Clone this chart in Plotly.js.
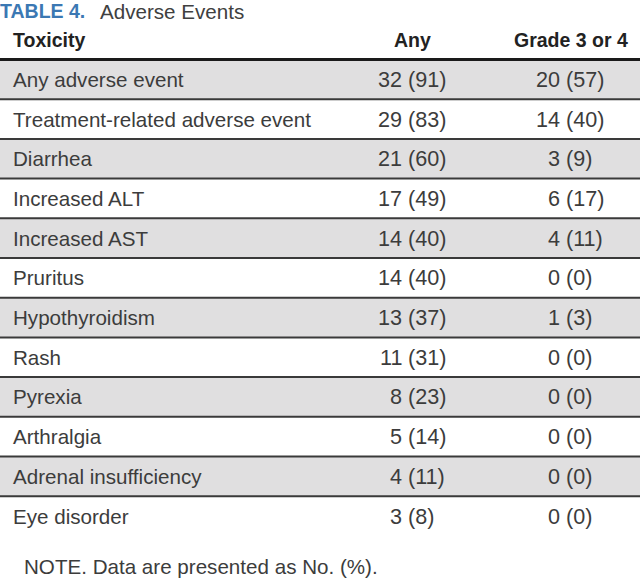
<!DOCTYPE html>
<html>
<head>
<meta charset="utf-8">
<script src="https://cdn.plot.ly/plotly-3.0.1.min.js"></script>
<style>html,body{margin:0;padding:0;background:#fff;}#chart{width:640px;height:580px;}</style>
</head>
<body>
<div id="chart"></div>
<script>
// ---- data ----
var tableLabel = "TABLE 4.";
var tableTitle = "Adverse Events";
var headers = ["Toxicity", "Any", "Grade 3 or 4"];
var toxicity = ["Any adverse event", "Treatment-related adverse event", "Diarrhea", "Increased ALT",
  "Increased AST", "Pruritus", "Hypothyroidism", "Rash", "Pyrexia", "Arthralgia",
  "Adrenal insufficiency", "Eye disorder"];
var anyN   = [32, 29, 21, 17, 14, 14, 13, 11, 8, 5, 4, 3];
var anyPct = [91, 83, 60, 49, 40, 40, 37, 31, 23, 14, 11, 8];
var g34N   = [20, 14, 3, 6, 4, 0, 1, 0, 0, 0, 0, 0];
var g34Pct = [57, 40, 9, 17, 11, 0, 3, 0, 0, 0, 0, 0];
var note = "NOTE. Data are presented as No. (%).";

// ---- style ----
var bodyFont = "Liberation Sans, Arial, sans-serif";
var textColor = "#3c3c3c";
var stripe = "#e0dfe0";
var lineColor = "#3a3a3a";
var n = toxicity.length;

var shapes = [];
var annotations = [];
function ann(x, y, text, anchor, font) {
  annotations.push({xref: "x", yref: "y", x: x, y: y, text: text, showarrow: false,
    xanchor: anchor, yanchor: "middle", borderpad: 0, borderwidth: 0, font: font});
}
var bodyF = {family: bodyFont, size: 20.6, color: textColor};
var numF = {family: bodyFont, size: 21.6, color: textColor};
var headF = {family: bodyFont, size: 19.5, color: "#222222"};

for (var i = 0; i < n; i++) {
  if (i % 2 === 0) {
    shapes.push({type: "rect", xref: "x", yref: "y", x0: 0, x1: 640, y0: i - 0.5, y1: i + 0.5,
      fillcolor: stripe, line: {width: 0}, layer: "below"});
  }
  if (i < n - 1) {
    shapes.push({type: "line", xref: "x", yref: "y", x0: 0, x1: 640, y0: i + 0.5, y1: i + 0.5,
      line: {color: lineColor, width: 2}});
  }
  ann(12.5, i, toxicity[i], "left", bodyF);
  ann(401.5, i, String(anyN[i]), "right", numF);
  ann(407.5, i, "(" + anyPct[i] + ")", "left", numF);
  ann(559.7, i, String(g34N[i]), "right", numF);
  ann(565.7, i, "(" + g34Pct[i] + ")", "left", numF);
}
// header rule
shapes.push({type: "line", xref: "x", yref: "y", x0: 0, x1: 640, y0: -0.5, y1: -0.5,
  line: {color: "#1a1a1a", width: 3}});

// headers
ann(12.5, -0.99, "<b>" + headers[0] + "</b>", "left", headF);
ann(412.5, -0.99, "<b>" + headers[1] + "</b>", "center", headF);
ann(570.5, -0.99, "<b>" + headers[2] + "</b>", "center", headF);
// title
ann(0, -1.71, "<b>" + tableLabel + "</b>", "left", {family: bodyFont, size: 19.5, color: "#3b78b3"});
ann(100, -1.71, tableTitle, "left", {family: bodyFont, size: 20.6, color: "#404040"});
// note
ann(24, 12.26, note, "left", bodyF);

var data = [{type: "scatter", mode: "markers", x: [], y: [], hoverinfo: "skip", showlegend: false}];
var layout = {
  width: 640, height: 580,
  margin: {l: 0, r: 0, t: 0, b: 0, pad: 0},
  paper_bgcolor: "#ffffff", plot_bgcolor: "#ffffff",
  showlegend: false,
  xaxis: {range: [0, 640], visible: false, fixedrange: true},
  yaxis: {range: [12.611, -1.999], visible: false, fixedrange: true},
  shapes: shapes,
  annotations: annotations
};
Plotly.newPlot("chart", data, layout, {displayModeBar: false, staticPlot: true});
</script>
</body>
</html>
